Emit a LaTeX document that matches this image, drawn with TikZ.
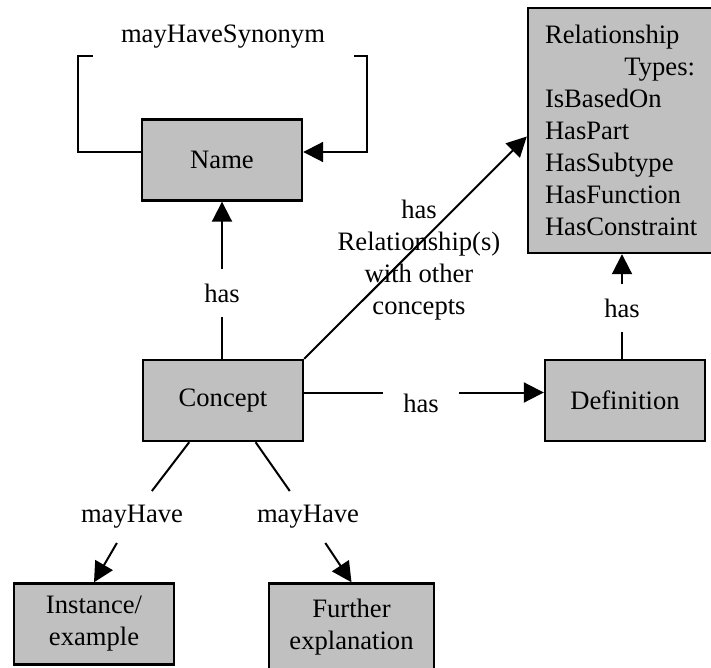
\documentclass[tikz,border=0pt]{standalone}
\usepackage{fontspec}
\setmainfont{Liberation Serif}
\usetikzlibrary{arrows.meta}
\definecolor{boxgray}{RGB}{192,192,192}

\begin{document}
\begin{tikzpicture}[x=0.5pt,y=-0.5pt,
    font=\fontsize{13.3}{16}\selectfont,
    box/.style={draw,line width=1.2pt,fill=boxgray,minimum width=80pt,minimum height=40.5pt,align=center},
    lbl/.style={inner xsep=10pt,inner ysep=7pt,align=center},
    line/.style={line width=1pt},
    arr/.style={line width=1pt,-{Triangle[length=10pt,width=10pt]}}]
    \useasboundingbox (0,0) rectangle (711,668);
    % grey boxes
    \node[box] (name) at (222,160) {Name};
    \node[box] (concept) at (223,400.5) {Concept};
    \node[box] (def) at (625,400.5) {Definition};
    \node[box] (inst) at (94,624) {Instance/\\example};
    \node[box,minimum width=82.5pt,minimum height=44pt] (further) at (351.5,627.5) {Further\\explanation};
    \node[box,minimum width=92pt,minimum height=122.5pt,text width=75pt,align=left] (rel) at (620,130.5)
        {Relationship\\\hspace*{\fill}Types:\\IsBasedOn\\HasPart\\HasSubtype\\HasFunction\\HasConstraint};
    % labels on the connectors
    \node[lbl] (syn) at (223,37) {mayHaveSynonym};
    \node[lbl] (hasN) at (222,293) {has};
    \node[lbl] (hasR) at (419,260) {has\\Relationship(s)\\with other\\concepts};
    \node[lbl] (hasD) at (421,403) {has};
    \node[lbl] (hasT) at (622,308) {has};
    \node[lbl] (may1) at (132,517) {mayHave};
    \node[lbl] (may2) at (308,517) {mayHave};
    \coordinate (synLc) at (78,56);
    \coordinate (synL) at (93,56);
    \coordinate (synR) at (354,56);
    \coordinate (synRc) at (367,56);
    % connectors
    \draw[line] ([yshift=4pt]name.west) -| (synLc) -- (synL);
    \draw[arr] (synR) -- (synRc) |- ([yshift=4pt]name.east);
    \draw[line] (hasN |- concept.north) -- (hasN);
    \draw[arr] (hasN) -- (name.south);
    \draw[arr] (concept.north east) -- ([yshift=-3pt]rel.west);
    \draw[line] ([yshift=4pt]concept.east) -- ([yshift=4pt]concept.east -| hasD.west);
    \draw[arr] ([yshift=4pt]concept.east -| hasD.east) -- ([yshift=4pt]def.west);
    \draw[line] (hasT |- def.north) -- (hasT);
    \draw[arr] (hasT) -- (hasT |- rel.south);
    \draw[line] (concept.231) -- (may1);
    \draw[arr] (may1) -- (inst.north);
    \draw[line] (concept.308) -- (may2);
    \draw[arr] (may2) -- (further.north);
\end{tikzpicture}
\end{document}
